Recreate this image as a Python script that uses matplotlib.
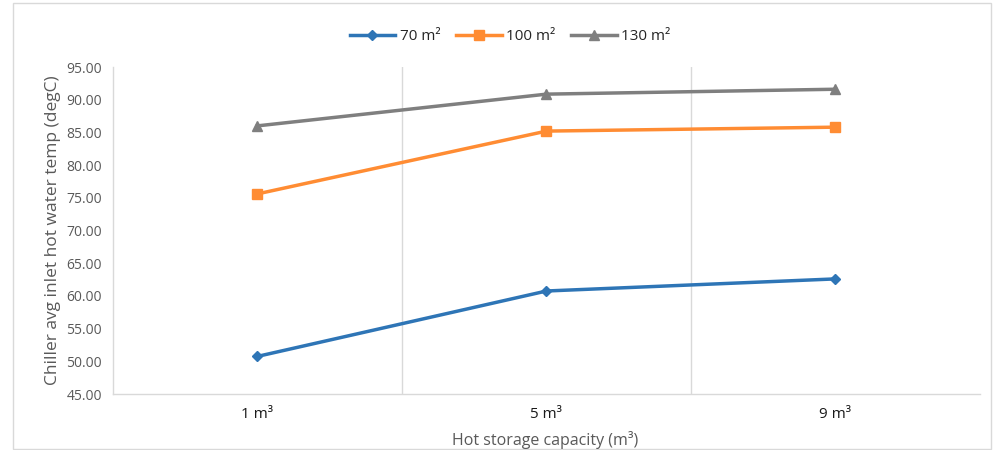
import matplotlib.pyplot as plt
from matplotlib.patches import Rectangle

# categories and series
categories = ['1 m³', '5 m³', '9 m³']
area_labels = ['70 m²', '100 m²', '130 m²']
temp_70 = [50.75, 60.75, 62.6]
temp_100 = [75.6, 85.2, 85.8]
temp_130 = [86.0, 90.85, 91.6]

colors = ['#2E75B6', '#FF8C33', '#7F7F7F']
markers = ['D', 's', '^']
msizes = [5, 7, 7]

plt.rcParams['font.family'] = ['Open Sans', 'DejaVu Sans']

fig = plt.figure(figsize=(9.95, 4.5), dpi=100)
ax = fig.add_axes([113 / 995, 56 / 450, 867 / 995, 327 / 450])

x = list(range(len(categories)))
series = [temp_70, temp_100, temp_130]
for vals, lab, c, m, ms in zip(series, area_labels, colors, markers, msizes):
    ax.plot(x, vals, color=c, marker=m, markersize=ms, linewidth=2.5, label=lab)

ax.set_xlim(-0.5, len(categories) - 0.5)
ax.set_ylim(45, 95)
ax.set_yticks([45 + 5 * i for i in range(11)])
ax.set_yticklabels(['%.2f' % (45 + 5 * i) for i in range(11)])
ax.set_xticks(x)
ax.set_xticklabels(categories)

# vertical gridlines between categories (Excel style)
for b in [0.5, 1.5]:
    ax.axvline(b, color='#D9D9D9', linewidth=1, zorder=0)

for s in ['top', 'right']:
    ax.spines[s].set_visible(False)
for s in ['left', 'bottom']:
    ax.spines[s].set_color('#D9D9D9')
    ax.spines[s].set_linewidth(1)

ax.tick_params(axis='y', length=0, labelsize=10, labelcolor='#595959', pad=8)
ax.tick_params(axis='x', length=0, labelsize=11, labelcolor='#1A1A1A', pad=9)

ax.set_ylabel('Chiller avg inlet hot water temp (degC)', fontsize=12.5, color='#595959', labelpad=4)
fig.text(545 / 995, 1 - 440 / 450, 'Hot storage capacity (m³)', fontsize=11.5, color='#595959',
         ha='center', va='center')

leg = fig.legend(loc='center', bbox_to_anchor=(510 / 995, 1 - 37 / 450), ncol=3, frameon=False,
                 fontsize=11, handlelength=3, columnspacing=1.0, handletextpad=0.3)
for t in leg.get_texts():
    t.set_color('#262626')

# light chart frame
fig.patches.append(Rectangle((13 / 995, 0.003), 978 / 995, 0.99, transform=fig.transFigure,
                             fill=False, edgecolor='#D9D9D9', linewidth=1))

fig.savefig('out.png', dpi=100)
